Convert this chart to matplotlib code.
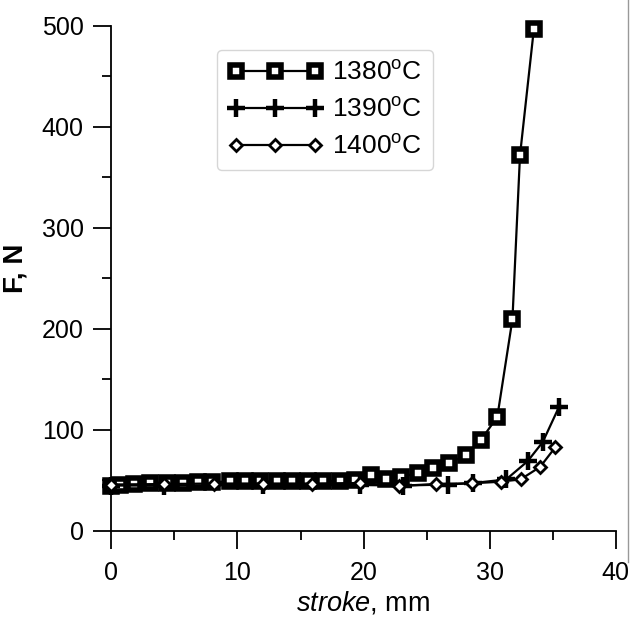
import matplotlib
matplotlib.use("Agg")
import matplotlib.pyplot as plt
from matplotlib.ticker import MultipleLocator
from matplotlib.lines import Line2D

plt.rcParams['font.family'] = ['Liberation Sans', 'DejaVu Sans']
plt.rcParams['mathtext.fontset'] = 'custom'
plt.rcParams['mathtext.rm'] = 'Liberation Sans'
plt.rcParams['mathtext.it'] = 'Liberation Sans:italic'
plt.rcParams['mathtext.bf'] = 'Liberation Sans:bold'

# ---- data ----
x1380 = [0, 0.7, 1.8, 3.1, 4.4, 5.7, 6.9, 8.0, 9.4, 10.6, 11.8, 13.1, 14.3, 15.6,
         16.8, 18.1, 19.3, 20.6, 21.8, 23.0, 24.3, 25.5, 26.8, 28.1, 29.3, 30.6,
         31.8, 32.4, 33.5]
y1380 = [45, 46, 47, 47.5, 48, 48, 48.5, 48.5, 49, 49, 49, 49, 49, 49.5,
         49.5, 49.5, 50, 55.4, 51.5, 53.5, 57.4, 62.4, 67.3, 75.2, 90.1, 112.9,
         209.6, 372, 497]

x1390 = [0, 4.2, 12.0, 19.7, 23.1, 26.7, 28.7, 31.3, 33.0, 34.2, 35.5]
y1390 = [45, 45, 45.5, 45.5, 45, 46, 47.5, 51, 69, 88, 123]

x1400 = [0, 4.2, 8.1, 12.0, 15.9, 19.7, 22.8, 25.7, 28.6, 30.9, 32.5, 34.0, 35.2]
y1400 = [46, 46.5, 47, 47, 47, 47.5, 44.6, 46.5, 47.2, 48.8, 51.5, 63.5, 82.9]

labels = ['1380$^{\\rm o}$C', '1390$^{\\rm o}$C', '1400$^{\\rm o}$C']

fig = plt.figure(figsize=(6.31, 6.18), dpi=100)
ax = fig.add_axes([0.1765, 0.1408, 0.7995, 0.8172])

ax.plot(x1380, y1380, color='black', lw=1.6, marker='s', ms=8.5, mew=4,
        mfc='white', mec='black', clip_on=False, label=labels[0], zorder=3)
ax.plot(x1390, y1390, color='black', lw=1.6, marker='+', ms=13, mew=3.2,
        clip_on=False, label=labels[1], zorder=4)
ax.plot(x1400, y1400, color='black', lw=1.6, marker='D', ms=6.5, mew=2,
        mfc='white', mec='black', clip_on=False, label=labels[2], zorder=5)

ax.set_xlim(0, 40)
ax.set_ylim(0, 500)
ax.xaxis.set_major_locator(MultipleLocator(10))
ax.xaxis.set_minor_locator(MultipleLocator(5))
ax.yaxis.set_major_locator(MultipleLocator(100))
ax.yaxis.set_minor_locator(MultipleLocator(50))

for s in ['top', 'right']:
    ax.spines[s].set_visible(False)
for s in ['left', 'bottom']:
    ax.spines[s].set_linewidth(1.3)

ax.tick_params(which='major', direction='out', length=13, width=1.3,
               labelsize=18)
ax.tick_params(axis='x', which='major', pad=8.5)
ax.tick_params(axis='y', which='major', pad=7)
ax.tick_params(which='minor', direction='out', length=6.5, width=1.3)

ax.set_xlabel('$\\mathit{stroke}$, mm', fontsize=19.5, labelpad=3)
ax.set_ylabel('F, N', fontsize=20, fontweight='bold')
ax.yaxis.set_label_coords(-0.165, 0.52)

leg = ax.legend(loc='upper left', bbox_to_anchor=(0.209, 0.952), numpoints=3,
                fontsize=19, frameon=True, fancybox=True, handlelength=3.6,
                handletextpad=0.35, labelspacing=0.485, borderpad=0.42,
                borderaxespad=0)
leg.get_frame().set_edgecolor('#cccccc')
leg.get_frame().set_linewidth(1.0)

fig.add_artist(Line2D([0.9945, 0.9945], [0.09, 1.0], transform=fig.transFigure,
                      color='#999999', lw=1))

fig.savefig('out.png', dpi=100)
